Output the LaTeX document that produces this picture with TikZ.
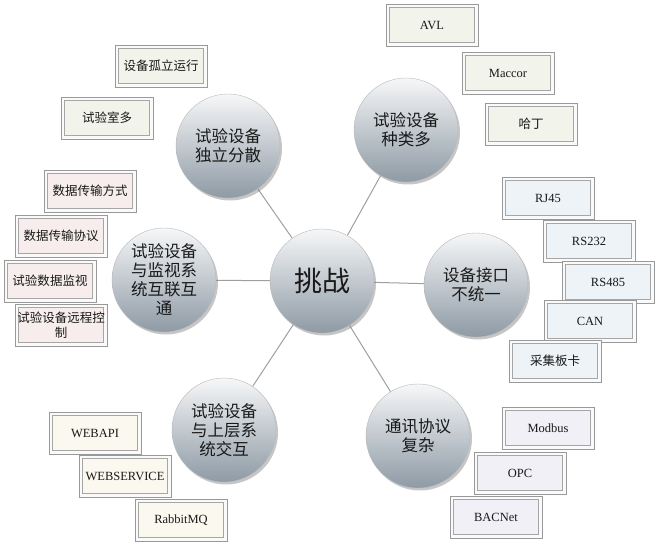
\documentclass[tikz,border=0pt]{standalone}
\usepackage{fontspec}
\setmainfont{Liberation Serif}
\newfontfamily\cjk{Noto Sans CJK SC}
\usetikzlibrary{shadows,backgrounds}
\definecolor{ballTop}{HTML}{F6F7F8}
\definecolor{ballMid}{HTML}{D6DADF}
\definecolor{ballBot}{HTML}{8E9AA5}
\definecolor{fillGreen}{HTML}{F2F3EA}
\definecolor{fillPink}{HTML}{F7EDED}
\definecolor{fillBlue}{HTML}{EEF3F7}
\definecolor{fillCream}{HTML}{FBF8EF}
\definecolor{fillLav}{HTML}{F2F0F7}
\begin{document}
\begin{tikzpicture}[x=1pt,y=-1pt,
  bubble/.style={circle, minimum size=104pt, inner sep=0pt, draw=gray!55, line width=0.4pt,
    top color=ballTop, middle color=ballMid, bottom color=ballBot,
    drop shadow={opacity=0.45, shadow xshift=2pt, shadow yshift=-2.5pt},
    align=center, font=\cjk\fontsize{16.5}{19}\selectfont, text=black!90},
  box/.style={rectangle, minimum width=92pt, minimum height=42pt, inner sep=0pt,
    draw=gray!80, line width=0.8pt, fill=white!96!gray,
    path picture={\filldraw[draw=gray!70, fill=#1, line width=0.8pt]
      ([xshift=3.2pt,yshift=3.2pt]path picture bounding box.south west) rectangle
      ([xshift=-3.2pt,yshift=-3.2pt]path picture bounding box.north east);},
    align=center, font=\fontsize{12.5}{14}\selectfont, text=black!90},
  cbox/.style={box=#1, font=\cjk\fontsize{12.5}{15}\selectfont},
  conn/.style={draw=gray!75, line width=1pt}
]
\useasboundingbox (0,0) rectangle (660,549);

% central and satellite circles
\node[bubble, font=\cjk\fontsize{28}{30}\selectfont] (c) at (322,281) {挑战};
\node[bubble] (s1) at (228,146) {试验设备\\独立分散};
\node[bubble] (s2) at (406,130) {试验设备\\种类多};
\node[bubble] (s3) at (476,285) {设备接口\\不统一};
\node[bubble] (s4) at (418,436) {通讯协议\\复杂};
\node[bubble] (s5) at (224,430) {试验设备\\与上层系\\统交互};
\node[bubble] (s6) at (164,280) {试验设备\\与监视系\\统互联互\\通};

\begin{scope}[on background layer]
  \foreach \s in {s1,s2,s3,s4,s5,s6} \draw[conn] (c) -- (\s);
\end{scope}

% top-right group
\node[box=fillGreen] (b1) at (432,25) {AVL};
\node[box=fillGreen] (b2) at (508,73) {Maccor};
\node[cbox=fillGreen] (b3) at (531,124) {哈丁};

% top-left group
\node[cbox=fillGreen] (a1) at (161,66) {设备孤立运行};
\node[cbox=fillGreen] (a2) at (107,118) {试验室多};

% left group
\node[cbox=fillPink] (l1) at (90,191) {数据传输方式};
\node[cbox=fillPink] (l2) at (61,236) {数据传输协议};
\node[cbox=fillPink] (l3) at (50,281) {试验数据监视};
\node[cbox=fillPink] (l4) at (61,325) {试验设备远程控\\制};

% right group
\node[box=fillBlue] (r1) at (548,198) {RJ45};
\node[box=fillBlue] (r2) at (589,241) {RS232};
\node[box=fillBlue] (r3) at (608,282) {RS485};
\node[box=fillBlue] (r4) at (590,321) {CAN};
\node[cbox=fillBlue] (r5) at (555,361) {采集板卡};

% bottom-left group
\node[box=fillCream] (w1) at (95,433) {WEBAPI};
\node[box=fillCream] (w2) at (125,476) {WEBSERVICE};
\node[box=fillCream] (w3) at (181,520) {RabbitMQ};

% bottom-right group
\node[box=fillLav] (p1) at (548,428) {Modbus};
\node[box=fillLav] (p2) at (520,473) {OPC};
\node[box=fillLav] (p3) at (496,517) {BACNet};
\end{tikzpicture}
\end{document}
